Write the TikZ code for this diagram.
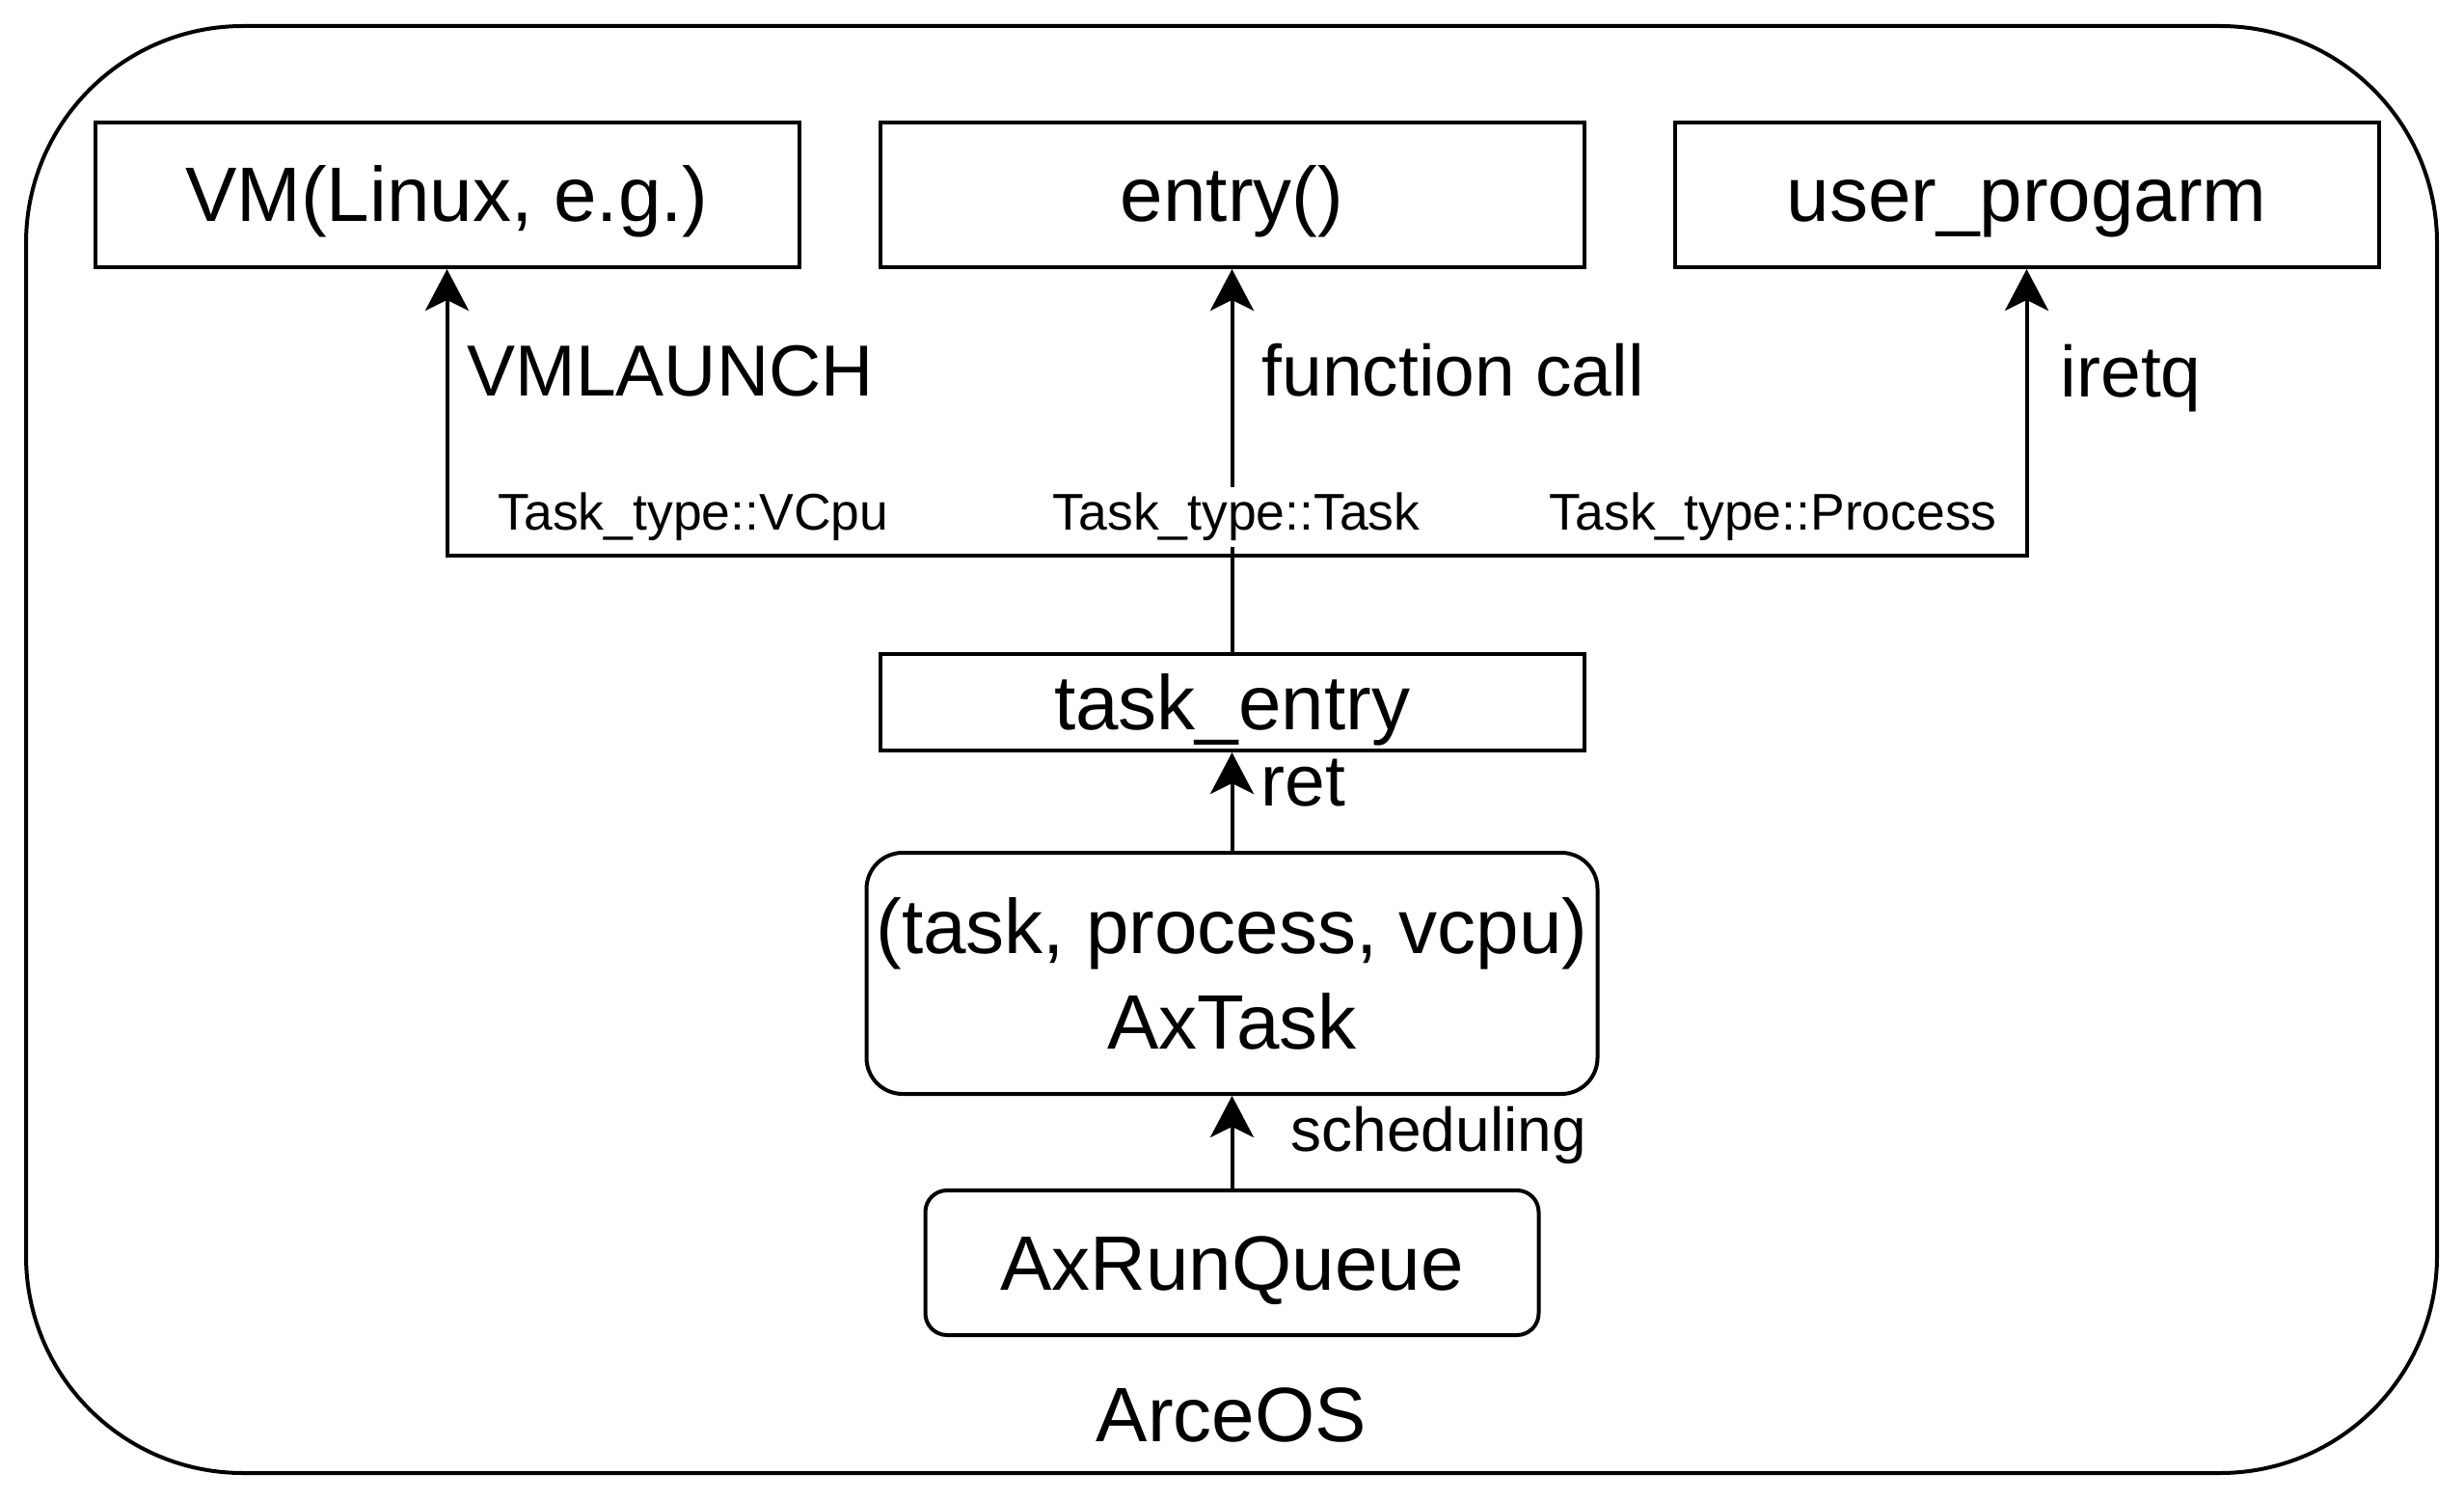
\documentclass[tikz,border=0pt]{standalone}
\usepackage{fontspec}
\setmainfont{Liberation Sans}
\usetikzlibrary{positioning, arrows.meta}

\begin{document}
\begin{tikzpicture}[
  every node/.style={
    inner sep=0mm
  },
  task box/.style={
    draw,
    line width=0.4mm,
    minimum width=73mm,
    minimum height=15mm,
    font=\fontsize{22.76}{28.2}\selectfont
  },
  plain box/.style={
    task box,
    text height=7.2mm,
    text depth=1.6mm
  },
  round box/.style={
    plain box,
    rounded corners=2.25mm
  },
  call arrow/.style={
    -{Stealth[length=4.3mm, width=4.5mm, inset=1.1mm]},
    line width=0.4mm
  },
  edge label/.style={
    font=\fontsize{21.34}{25.6}\selectfont,
    anchor=base west
  },
  type label/.style={
    font=\fontsize{15.22}{18.3}\selectfont,
    anchor=base west
  }
]
\useasboundingbox (0,0) rectangle (25.55,15.55);

\node[draw, line width=0.4mm, rounded corners=22.5mm, minimum width=250mm, minimum height=150mm] (os) at (12.77,7.78) {};
\node[font=\fontsize{22.76}{28.2}\selectfont, anchor=base] (arceos) at (12.77,0.61) {ArceOS};

\node[plain box] (entry) at (12.775,13.53) {entry()};
\node[plain box, left=8mm of entry] (vm) {VM(Linux, e.g.)};
\node[plain box, right=9mm of entry] (user) {user\_progarm};

\node[plain box, minimum height=10mm, below=39.7mm of entry] (taskentry) {task\_entry};
\node[task box, rounded corners=3.75mm, align=center, minimum width=75.8mm, minimum height=25mm, below=10.2mm of taskentry] (axtask) {(task, process, vcpu)\\AxTask};
\node[round box, minimum width=63.6mm, below=9.6mm of axtask] (runqueue) {AxRunQueue};

\coordinate[above=10mm of taskentry] (split);

\draw[call arrow] (taskentry.north) -- (entry.south);
\draw[call arrow] (taskentry.north) -- (split) -| (vm.south);
\draw[call arrow] (taskentry.north) -- (split) -| (user.south);
\draw[call arrow] (axtask) -- (taskentry);
\draw[call arrow] (runqueue) -- (axtask);

\node[edge label] (vmlaunch) at (4.84,11.44) {VMLAUNCH};
\node[edge label] (funccall) at (13.08,11.44) {function call};
\node[edge label] (iretq) at (21.36,11.43) {iretq};
\node[edge label] (ret) at (13.07,7.20) {ret};
\node[edge label, font=\fontsize{18.21}{21.9}\selectfont] (sched) at (13.38,3.62) {scheduling};

\node[type label] (vcpu) at (5.16,10.05) {Task\_type::VCpu};
\node[type label, anchor=base, fill=white, inner ysep=0.6mm, inner xsep=0.3mm] (task) at (12.82,10.05) {Task\_type::Task};
\node[type label] (process) at (16.06,10.05) {Task\_type::Process};

\end{tikzpicture}
\end{document}
